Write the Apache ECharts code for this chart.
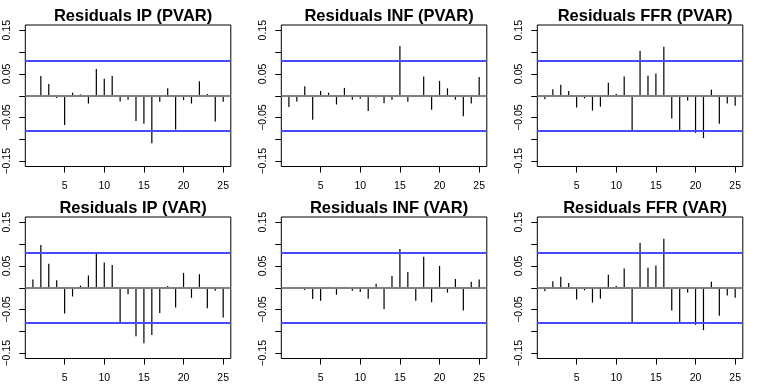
<!DOCTYPE html>
<html>
<head>
<meta charset="utf-8">
<script src="https://cdn.jsdelivr.net/npm/echarts@6/dist/echarts.min.js"></script>
<style>
  html, body { margin: 0; padding: 0; background: #fff; }
  #main { width: 768px; height: 384px; }
</style>
</head>
<body>
<div id="main"></div>
<script>
var app = echarts.init(document.getElementById('main'));

// lags 1..25
var lags = [1,2,3,4,5,6,7,8,9,10,11,12,13,14,15,16,17,18,19,20,21,22,23,24,25];

var ip_pvar  = [-0.001,0.045,0.027,-0.005,-0.067,0.007,0.003,-0.018,0.061,0.039,0.045,-0.013,-0.009,-0.058,-0.064,-0.109,-0.014,0.017,-0.077,-0.010,-0.018,0.033,0.004,-0.059,-0.014];
var inf_pvar = [-0.026,-0.013,0.022,-0.055,0.011,0.007,-0.020,0.018,-0.009,-0.007,-0.035,-0.004,-0.017,-0.009,0.114,-0.014,0.002,0.044,-0.032,0.034,0.017,-0.009,-0.047,-0.018,0.043];
var ffr_pvar = [-0.008,0.015,0.025,0.011,-0.027,-0.006,-0.034,-0.025,0.030,0.004,0.044,-0.082,0.103,0.046,0.051,0.112,-0.052,-0.082,-0.011,-0.085,-0.097,0.014,-0.064,-0.018,-0.023];
var ip_var   = [0.019,0.098,0.055,0.017,-0.059,-0.020,0.005,0.028,0.079,0.058,0.052,-0.083,-0.015,-0.111,-0.127,-0.108,-0.058,0.004,-0.045,0.034,-0.023,0.031,-0.047,-0.007,-0.068];
var inf_var  = [-0.002,-0.003,-0.005,-0.026,-0.030,0.002,-0.016,0.002,-0.007,-0.010,-0.025,0.009,-0.049,0.027,0.089,0.036,-0.030,0.071,-0.033,0.050,-0.011,0.020,-0.052,0.014,0.019];
var ffr_var  = [-0.008,0.015,0.025,0.011,-0.027,-0.006,-0.034,-0.025,0.030,0.004,0.044,-0.082,0.103,0.046,0.051,0.112,-0.052,-0.082,-0.011,-0.085,-0.097,0.014,-0.064,-0.018,-0.023];

var titles = ['Residuals IP (PVAR)','Residuals INF (PVAR)','Residuals FFR (PVAR)',
              'Residuals IP (VAR)','Residuals INF (VAR)','Residuals FFR (VAR)'];
var panels = [ip_pvar, inf_pvar, ffr_pvar, ip_var, inf_var, ffr_var];

var conf = 0.08;
var xTicks = [5,10,15,20,25];
var yTicks = [-0.15,-0.1,-0.05,0,0.05,0.1,0.15];
var yLabels = [-0.15,-0.05,0.05,0.15];

var font = 'Liberation Sans, Arial, Helvetica, sans-serif';
var boxW = 205.5, boxH = 141.5;

var grids = [], xAxes = [], yAxes = [], series = [], titleList = [];

panels.forEach(function (vals, i) {
  var col = i % 3, row = Math.floor(i / 3);
  var left = 25.3 + col * 256;
  var top = 25 + row * 192;
  grids.push({left: left, top: top, width: boxW, height: boxH,
    show: true, borderColor: '#000', borderWidth: 1, backgroundColor: 'transparent'});
  titleList.push({
    text: titles[i], left: left + boxW / 2, top: top - 22, textAlign: 'center',
    textStyle: {fontFamily: font, fontWeight: 'bold', fontSize: 16.5, color: '#000'}
  });
  xAxes.push({
    type: 'value', gridIndex: i, min: 0.04, max: 25.96,
    splitLine: {show: false},
    axisLine: {show: false, onZero: false},
    axisTick: {show: true, length: 6, customValues: xTicks, lineStyle: {color: '#000'}},
    axisLabel: {customValues: xTicks, margin: 14, fontSize: 10.5, fontFamily: font, color: '#000'}
  });
  yAxes.push({
    type: 'value', gridIndex: i, min: -0.162, max: 0.162,
    splitLine: {show: false},
    axisLine: {show: false},
    axisTick: {show: true, length: 6, customValues: yTicks, lineStyle: {color: '#000'}},
    axisLabel: {customValues: yLabels, rotate: 90, margin: 13, fontSize: 10.5, fontFamily: font, color: '#000',
      formatter: function (v) { return v.toFixed(2).replace('-', '\u2212'); }}
  });
  series.push({
    type: 'bar', xAxisIndex: i, yAxisIndex: i,
    data: lags.map(function (l, k) { return [l, vals[k]]; }),
    barWidth: 1.2,
    itemStyle: {color: '#000'},
    animation: false,
    silent: true,
    markLine: {
      silent: true, symbol: 'none', animation: false,
      label: {show: false},
      data: [
        {yAxis: 0, lineStyle: {color: '#808080', width: 2, type: 'solid'}},
        {yAxis: conf, lineStyle: {color: '#4a4aff', width: 2, type: 'solid'}},
        {yAxis: -conf, lineStyle: {color: '#4a4aff', width: 2, type: 'solid'}}
      ]
    }
  });
});

app.setOption({
  animation: false,
  backgroundColor: '#fff',
  title: titleList,
  grid: grids,
  xAxis: xAxes,
  yAxis: yAxes,
  series: series
});
</script>
</body>
</html>
